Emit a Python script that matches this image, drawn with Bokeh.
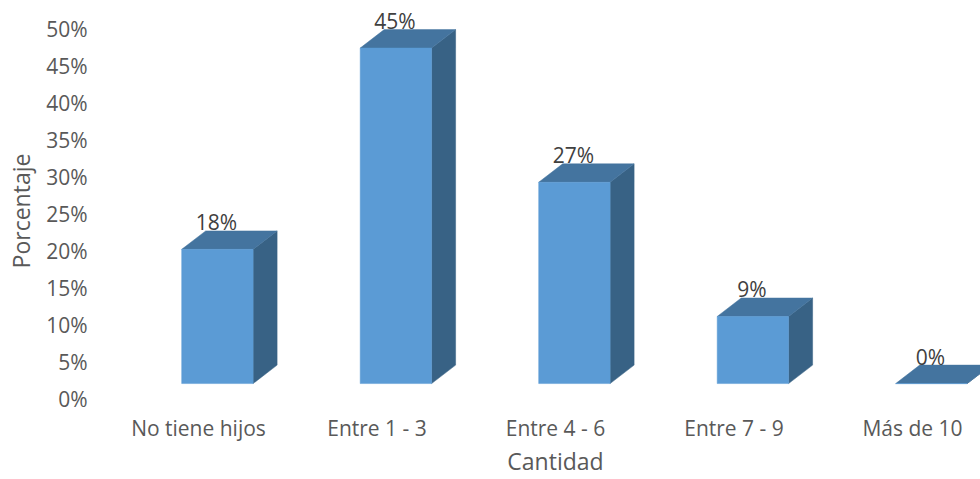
from bokeh.plotting import figure
from bokeh.embed import file_html
from bokeh.resources import INLINE
from bokeh.models import Range1d, FixedTicker
from bokeh.core.properties import value

categories = ["No tiene hijos", "Entre 1 - 3", "Entre 4 - 6", "Entre 7 - 9", "Más de 10"]
percentages = [18.18, 45.45, 27.27, 9.09, 0.0]
y_ticks = [0, 5, 10, 15, 20, 25, 30, 35, 40, 45, 50]
x_title = "Cantidad"
y_title = "Porcentaje"

FONT = "Open Sans"
PX_X = 178.5   # px per category
PX_Y = 7.4     # px per percent
FRAME_L, FRAME_R, FRAME_T, FRAME_B = 130, 980, 10, 412
X0_PX, Y0_PX = 198, 399

p = figure(width=980, height=479, output_backend="svg", toolbar_location=None,
           min_border_left=FRAME_L, min_border_right=0,
           min_border_top=FRAME_T, min_border_bottom=479 - FRAME_B,
           x_range=Range1d((FRAME_L - X0_PX) / PX_X, (FRAME_R - X0_PX) / PX_X),
           y_range=Range1d((Y0_PX - FRAME_B) / PX_Y, (Y0_PX - FRAME_T) / PX_Y))
p.outline_line_color = None
p.grid.visible = False
p.background_fill_color = "white"

offset = 18.9 / PX_X
half_w = 35.7 / PX_X
dx = 24 / PX_X
dy = 18.5 / PX_Y
base = 15 / PX_Y

front_x, front_y, top_x, top_y, side_x, side_y, lab_x, lab_y, labs = [], [], [], [], [], [], [], [], []
for i, v in enumerate(percentages):
    l, r = i + offset - half_w, i + offset + half_w
    b, t = base, base + v
    front_x.append([l, r, r, l]); front_y.append([b, b, t, t])
    top_x.append([l, r, r + dx, l + dx]); top_y.append([t, t, t + dy, t + dy])
    side_x.append([r, r + dx, r + dx, r]); side_y.append([b, b + dy, t + dy, t])
    lab_x.append(i + offset - 1 / PX_X); lab_y.append(t); labs.append(f"{round(v)}%")

p.patches(side_x, side_y, fill_color="#386285", line_color="#386285", line_width=0.5)
p.patches(top_x, top_y, fill_color="#44749F", line_color="#44749F", line_width=0.5)
p.patches(front_x, front_y, fill_color="#5B9BD5", line_color="#5B9BD5", line_width=0.5)
p.text(lab_x, lab_y, text=labs, text_font=value(FONT), text_font_size="21px",
       text_color="#404040", text_align="center", text_baseline="middle", y_offset=-27)

p.xaxis.ticker = FixedTicker(ticks=list(range(len(categories))))
p.xaxis.major_label_overrides = {i: c for i, c in enumerate(categories)}
p.yaxis.ticker = FixedTicker(ticks=y_ticks)
p.yaxis.major_label_overrides = {t: f"{t}%" for t in y_ticks}

for ax in (p.xaxis, p.yaxis):
    ax.axis_line_color = None
    ax.major_tick_line_color = None
    ax.minor_tick_line_color = None
    ax.major_tick_out = 0
    ax.major_tick_in = 0
    ax.minor_tick_out = 0
    ax.minor_tick_in = 0
    ax.major_label_text_font = FONT
    ax.major_label_text_color = "#595959"
    ax.major_label_text_font_size = "21px"
    ax.axis_label_text_font = FONT
    ax.axis_label_text_font_style = "normal"
    ax.axis_label_text_color = "#595959"
    ax.axis_label_text_font_size = "23px"

p.xaxis.axis_label = x_title
p.yaxis.axis_label = y_title
p.xaxis.major_label_standoff = 2
p.xaxis.axis_label_standoff = 0
p.yaxis.major_label_standoff = 43
p.yaxis.axis_label_standoff = 6

open("out.html", "w").write(file_html(p, INLINE))
